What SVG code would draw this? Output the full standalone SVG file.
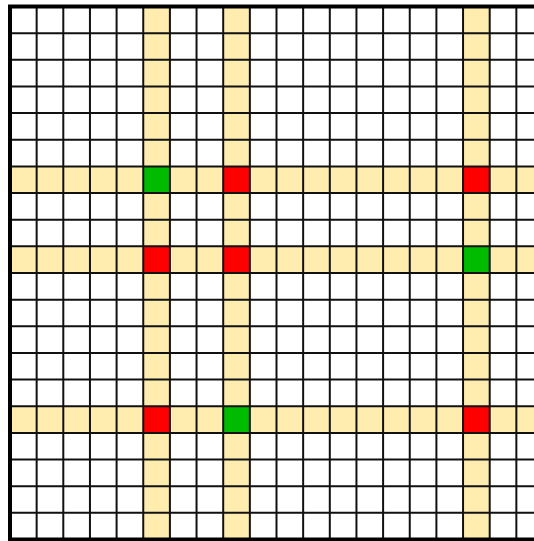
<svg xmlns="http://www.w3.org/2000/svg" width="534" height="541" viewBox="0 0 534 541">
<style>
.hl{fill:#FFEDB0}
.r{fill:#FF0000}
.g{fill:#00BB00}
.grid{fill:none;stroke:#111;stroke-width:2}
.border{fill:none;stroke:#000;stroke-width:4}
</style>
<rect x="0" y="0" width="534" height="541" fill="#fff"/>
<g id="bands">
<rect class="hl" x="143.25" y="6.5" width="26.65" height="533"/>
<rect class="hl" x="223.2" y="6.5" width="26.65" height="533"/>
<rect class="hl" x="463.05" y="6.5" width="26.65" height="533"/>
<rect class="hl" x="10" y="166.4" width="533" height="26.65"/>
<rect class="hl" x="10" y="246.35" width="533" height="26.65"/>
<rect class="hl" x="10" y="406.25" width="533" height="26.65"/>
</g>
<g id="cells">
<rect class="g" x="143.25" y="166.4" width="26.65" height="26.65"/>
<rect class="r" x="223.2" y="166.4" width="26.65" height="26.65"/>
<rect class="r" x="463.05" y="166.4" width="26.65" height="26.65"/>
<rect class="r" x="143.25" y="246.35" width="26.65" height="26.65"/>
<rect class="r" x="223.2" y="246.35" width="26.65" height="26.65"/>
<rect class="g" x="463.05" y="246.35" width="26.65" height="26.65"/>
<rect class="r" x="143.25" y="406.25" width="26.65" height="26.65"/>
<rect class="g" x="223.2" y="406.25" width="26.65" height="26.65"/>
<rect class="r" x="463.05" y="406.25" width="26.65" height="26.65"/>
</g>
<g id="grid">
<path class="grid" d="M36.65 6.5V539.5M63.3 6.5V539.5M89.95 6.5V539.5M116.6 6.5V539.5M143.25 6.5V539.5M169.9 6.5V539.5M196.55 6.5V539.5M223.2 6.5V539.5M249.85 6.5V539.5M276.5 6.5V539.5M303.15 6.5V539.5M329.8 6.5V539.5M356.45 6.5V539.5M383.1 6.5V539.5M409.75 6.5V539.5M436.4 6.5V539.5M463.05 6.5V539.5M489.7 6.5V539.5M516.35 6.5V539.5
M10 33.15H543M10 59.8H543M10 86.45H543M10 113.1H543M10 139.75H543M10 166.4H543M10 193.05H543M10 219.7H543M10 246.35H543M10 273H543M10 299.65H543M10 326.3H543M10 352.95H543M10 379.6H543M10 406.25H543M10 432.9H543M10 459.55H543M10 486.2H543M10 512.85H543"/>
<rect class="border" x="10" y="6.5" width="533" height="533"/>
</g>
</svg>
